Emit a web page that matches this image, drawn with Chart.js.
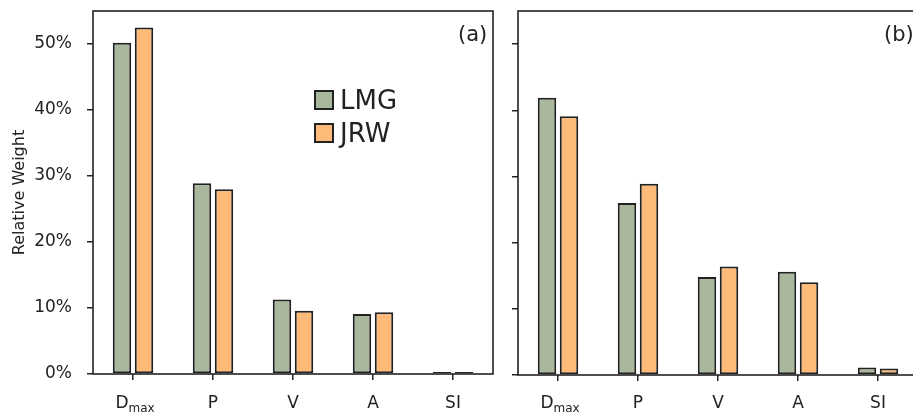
<!DOCTYPE html>
<html>
<head>
<meta charset="utf-8">
<script src="https://cdn.jsdelivr.net/npm/chart.js@4/dist/chart.umd.min.js"></script>
<style>
  html, body { margin:0; padding:0; background:#fff; overflow:hidden; width:913px; height:416px; }
  .wrap { position:absolute; top:0; height:416px; }
  #wa { left:0; width:505px; }
  #wb { left:505px; width:413px; }
  .lbl { position:absolute; font-family:"DejaVu Sans", sans-serif; color:#222; white-space:nowrap; }
  .panel { font-size:21px; line-height:21px; }
  .leg { font-size:26px; line-height:26px; display:flex; align-items:center; }
  .sw { width:16px; height:16px; border:2px solid #222; margin-right:6px; }
</style>
</head>
<body>
<div class="wrap" id="wa"><canvas id="ca" width="505" height="416"></canvas></div>
<div class="wrap" id="wb"><canvas id="cb" width="413" height="416"></canvas></div>
<div class="lbl panel" style="left:458px; top:24px;">(a)</div>
<div class="lbl panel" style="left:884px; top:24px;">(b)</div>
<div class="lbl leg" style="left:314px; top:87px;"><div class="sw" style="background:#A9B79C"></div>LMG</div>
<div class="lbl leg" style="left:314px; top:120px;"><div class="sw" style="background:#FDBA78"></div>JRW</div>
<script>
const categories = ["Dmax", "P", "V", "A", "SI"];
const seriesNames = ["LMG", "JRW"];
const lmgA = [50.2, 28.9, 11.3, 9.1, 0.3];
const jrwA = [52.5, 28.0, 9.6, 9.35, 0.3];
const lmgB = [41.9, 26.0, 14.8, 15.6, 1.15];
const jrwB = [39.1, 28.9, 16.4, 14.0, 1.0];
const yTicks = [0, 10, 20, 30, 40, 50];
const yMax = 55;

const FONT = '"DejaVu Sans", sans-serif';
const INK = '#222';
const GREEN = '#A9B79C';
const ORANGE = '#FDBA78';

const boxPlugin = {
  id: 'box',
  afterDraw(chart) {
    const {ctx, chartArea: a} = chart;
    ctx.save();
    ctx.strokeStyle = INK;
    ctx.lineWidth = 1.6;
    ctx.strokeRect(a.left, a.top, a.right - a.left, a.bottom - a.top);
    const xs = chart.scales.x;
    ctx.fillStyle = INK;
    ctx.textBaseline = 'alphabetic';
    const base = 408;
    xs.ticks.forEach((t, i) => {
      const lab = categories[i];
      const x = xs.getPixelForTick(i);
      if (lab === 'Dmax') {
        ctx.font = '17px ' + FONT;
        const wD = ctx.measureText('D').width;
        ctx.font = '12px ' + FONT;
        const wm = ctx.measureText('max').width;
        const start = x + 2 - (wD + wm) / 2;
        ctx.textAlign = 'left';
        ctx.font = '17px ' + FONT;
        ctx.fillText('D', start, base);
        ctx.font = '12px ' + FONT;
        ctx.fillText('max', start + wD, base + 4);
      } else {
        ctx.textAlign = 'center';
        ctx.font = '17px ' + FONT;
        ctx.fillText(lab, x, base);
      }
    });
    ctx.restore();
  }
};

function makeChart(id, lmg, jrw, yAxisWidth, xAxisHeight, padRight, showY) {
  return new Chart(document.getElementById(id), {
    type: 'bar',
    data: {
      labels: categories,
      datasets: [
        { label: seriesNames[0], data: lmg, backgroundColor: GREEN, borderColor: INK, borderWidth: 2, borderSkipped: false },
        { label: seriesNames[1], data: jrw, backgroundColor: ORANGE, borderColor: INK, borderWidth: 2, borderSkipped: false }
      ]
    },
    options: {
      responsive: false,
      animation: false,
      devicePixelRatio: 1,
      categoryPercentage: 0.55,
      barPercentage: 0.84,
      layout: { padding: { top: 11, right: padRight, bottom: 0, left: 0 } },
      plugins: { legend: { display: false }, tooltip: { enabled: false } },
      scales: {
        x: {
          grid: { offset: false, drawOnChartArea: false, drawTicks: true, tickLength: 6, color: INK, lineWidth: 1.5 },
          border: { display: false },
          ticks: { color: 'rgba(0,0,0,0)', font: { size: 17, family: FONT } },
          afterFit(s) { s.height = xAxisHeight; s.paddingLeft = 0; s.paddingRight = 0; }
        },
        y: {
          min: 0, max: yMax,
          afterBuildTicks(s) { s.ticks = yTicks.map(v => ({ value: v })); },
          grid: { drawOnChartArea: false, drawTicks: true, tickLength: 6, color: INK, lineWidth: 1.5 },
          border: { display: false },
          ticks: {
            color: showY ? INK : 'rgba(0,0,0,0)',
            padding: 15,
            font: { size: 17, family: FONT },
            callback: v => v + '%'
          },
          title: { display: showY, text: 'Relative Weight', color: INK, font: { size: 16, family: FONT }, padding: { top: 10, bottom: 0 } },
          afterFit(s) { s.width = yAxisWidth; s.paddingTop = 0; s.paddingBottom = 0; }
        }
      }
    },
    plugins: [boxPlugin]
  });
}

makeChart('ca', lmgA, jrwA, 93, 42, 12, true);
makeChart('cb', lmgB, jrwB, 13, 41, 0, false);
</script>
</body>
</html>
